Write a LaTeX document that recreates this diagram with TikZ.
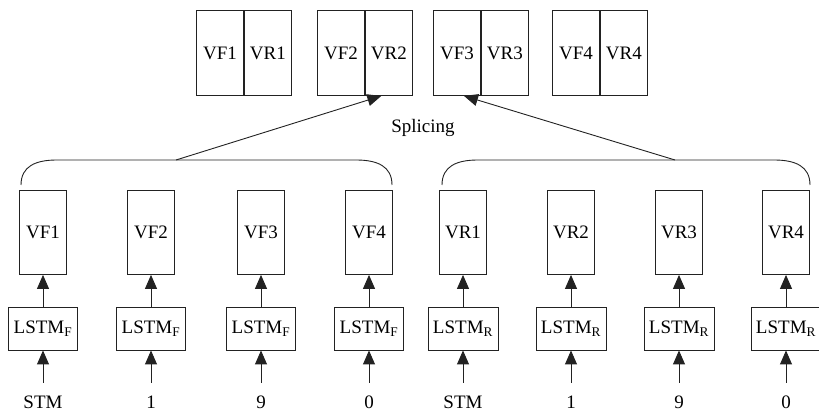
\documentclass[tikz,border=0pt]{standalone}
\usepackage{fontspec}
\setmainfont{Liberation Serif}
\usetikzlibrary{calc,arrows.meta}
\definecolor{ink}{HTML}{222222}
\tikzset{
  txt/.style={font=\fontsize{19}{21}\selectfont},
  cell/.style={draw=ink, line width=0.9pt, minimum width=47pt, minimum height=84pt, inner sep=0pt, txt},
  half/.style={cell, minimum height=85pt},
  lstm/.style={draw=ink, line width=0.9pt, minimum height=43pt, inner xsep=5pt, inner ysep=0pt, txt},
  inp/.style={txt, text height=12pt, text depth=0pt, inner sep=0pt},
  arr/.style={draw=ink, line width=0.9pt, -{Triangle[length=14pt,width=12pt]}},
  brace/.style={draw=ink, line width=0.9pt},
}

\begin{document}
\begin{tikzpicture}[x=1pt,y=-1pt]
  \useasboundingbox (0,0) rectangle (819,411);
  % spliced pairs on top
  \foreach \i/\x in {1/196,2/317,3/433,4/552} {
    \node[half, anchor=north west] (tf\i) at (\x,10) {VF\i};
    \node[half, anchor=west] (tr\i) at (tf\i.east) {VR\i};
  }
  % forward direction
  \foreach \i/\x/\t in {1/43/STM,2/151/1,3/261/9,4/369/0} {
    \node[cell, anchor=north] (f\i) at (\x,190) {VF\i};
    \node[lstm] (lf\i) at (\x,328.5) {LSTM\textsubscript{F}};
    \node[inp] (xf\i) at (\x,402) {\t};
    \draw[arr] (lf\i) -- (f\i);
    \draw[arr, shorten <=13pt] (xf\i) -- (lf\i);
  }
  % reverse direction
  \foreach \i/\x/\t in {1/463/STM,2/571/1,3/679/9,4/786/0} {
    \node[cell, anchor=north] (r\i) at (\x,190) {VR\i};
    \node[lstm] (lr\i) at (\x,328.5) {LSTM\textsubscript{R}};
    \node[inp] (xr\i) at (\x,402) {\t};
    \draw[arr] (lr\i) -- (r\i);
    \draw[arr, shorten <=13pt] (xr\i) -- (lr\i);
  }
  % braces
  \draw[brace] (21,185) .. controls (21,166) and (36,160) .. (57,160) -- (356,160)
    .. controls (377,160) and (392,166) .. (392,185);
  \draw[brace] (442,185) .. controls (442,166) and (457,160) .. (478,160) -- (774,160)
    .. controls (795,160) and (810,166) .. (810,185);
  \coordinate (bf) at (176,160);
  \coordinate (br) at (675,160);
  \node[txt] (spl) at (423,128) {Splicing};
  \draw[arr] (bf) -- ([xshift=-7.5pt]tr2.south);
  \draw[arr] (br) -- ([xshift=7pt]tf3.south);
\end{tikzpicture}
\end{document}
